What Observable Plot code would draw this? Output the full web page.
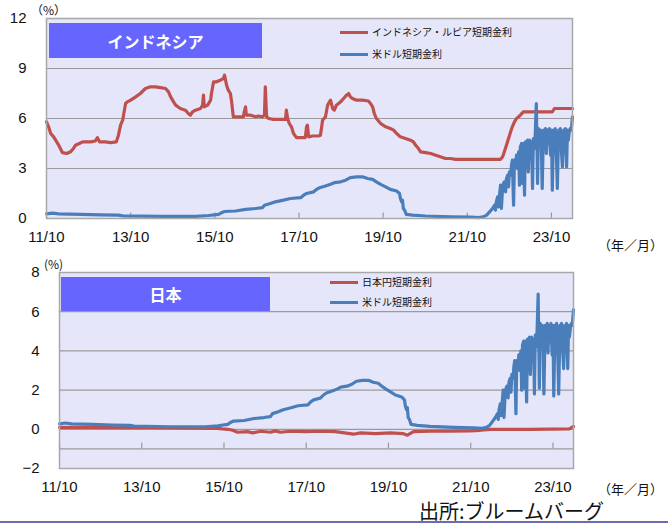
<!DOCTYPE html>
<html>
<head>
<meta charset="utf-8">
<script src="https://cdn.jsdelivr.net/npm/d3@7"></script>
<script src="https://cdn.jsdelivr.net/npm/@observablehq/plot@0.6"></script>
<style>
  body { margin: 0; background: white; }
  #wrap { position: relative; width: 668px; height: 525px; background: white; overflow: hidden;
          font-family: "Noto Sans CJK JP", "Liberation Sans", sans-serif; color: #111; }
  .abs { position: absolute; white-space: nowrap; }
  .titlebox { position: absolute; background: #6666ff; color: white; font-weight: bold; font-size: 16px;
              display: flex; align-items: center; justify-content: center; }
  .legline { position: absolute; height: 3px; width: 28px; }
  .legtext { position: absolute; font-size: 10px; line-height: 12px; white-space: nowrap; }
</style>
</head>
<body>
<div id="wrap">
  <div id="top" class="abs" style="left:0;top:0"></div>
  <div id="bot" class="abs" style="left:0;top:250px"></div>

  <div class="titlebox" style="left:49px;top:23px;width:213px;height:35px">インドネシア</div>
  <div class="legline" style="left:340px;top:31px;background:#c0504d"></div>
  <div class="legtext" style="left:372px;top:26px">インドネシア・ルピア短期金利</div>
  <div class="legline" style="left:340px;top:53px;background:#4a7ebb"></div>
  <div class="legtext" style="left:372px;top:48px">米ドル短期金利</div>
  <div class="abs" style="left:31px;top:1px;font-size:12px">（%）</div>
  <div class="abs" style="left:598px;top:235px;font-size:13px">（年／月）</div>

  <div class="titlebox" style="left:61px;top:277px;width:209px;height:34px">日本</div>
  <div class="legline" style="left:330px;top:281px;background:#c0504d"></div>
  <div class="legtext" style="left:362px;top:276px">日本円短期金利</div>
  <div class="legline" style="left:330px;top:301px;background:#4a7ebb"></div>
  <div class="legtext" style="left:362px;top:296px">米ドル短期金利</div>
  <div class="abs" style="left:44px;top:255px;font-size:12px">(%)</div>
  <div class="abs" style="left:598px;top:479px;font-size:13px">（年／月）</div>

  <div class="abs" style="left:419px;top:496px;font-size:20px">出所:ブルームバーグ</div>
  <div class="abs" style="left:0;top:521px;width:668px;height:2px;background:#6b6bb0"></div>
</div>
<script>
// x tick positions (decimal years) and labels
const xTickYears = [2011.75, 2013.75, 2015.75, 2017.75, 2019.75, 2021.75, 2023.75];
const xTickLabels = ["11/10", "13/10", "15/10", "17/10", "19/10", "21/10", "23/10"];

// Indonesia rupiah short-term rate
const idrYears = [2011.75,2011.80,2011.85,2011.92,2012.04,2012.13,2012.23,2012.32,2012.39,2012.44,2012.53,2012.61,2012.80,2012.91,2012.96,2013.01,2013.15,2013.27,2013.41,2013.46,2013.51,2013.56,2013.63,2013.67,2013.75,2013.87,2013.98,2014.10,2014.22,2014.34,2014.46,2014.58,2014.65,2014.70,2014.77,2014.82,2014.93,2015.05,2015.12,2015.17,2015.22,2015.29,2015.41,2015.46,2015.48,2015.50,2015.58,2015.65,2015.67,2015.72,2015.79,2015.88,2015.96,2015.98,2016.03,2016.07,2016.12,2016.15,2016.19,2016.31,2016.43,2016.45,2016.48,2016.50,2016.60,2016.72,2016.79,2016.88,2016.93,2016.95,2016.98,2017.03,2017.14,2017.31,2017.43,2017.45,2017.48,2017.52,2017.57,2017.62,2017.69,2017.79,2017.90,2017.93,2017.95,2017.98,2018.07,2018.21,2018.26,2018.29,2018.31,2018.38,2018.43,2018.50,2018.55,2018.59,2018.64,2018.69,2018.74,2018.81,2018.88,2018.93,2018.97,2019.02,2019.12,2019.26,2019.40,2019.45,2019.50,2019.54,2019.59,2019.69,2019.81,2019.92,2020.00,2020.07,2020.16,2020.28,2020.40,2020.47,2020.52,2020.59,2020.64,2020.76,2020.88,2021.00,2021.11,2021.23,2021.35,2021.47,2021.83,2022.18,2022.54,2022.59,2022.63,2022.68,2022.73,2022.78,2022.82,2022.87,2022.92,2022.97,2023.01,2023.08,2023.25,2023.49,2023.77,2023.82,2024.25];
const idrRates = [5.8,5.5,5.1,4.9,4.4,3.95,3.9,4.0,4.2,4.4,4.5,4.6,4.6,4.65,4.85,4.6,4.6,4.55,4.6,5.0,5.6,5.9,6.9,7.0,7.1,7.3,7.5,7.8,7.9,7.9,7.85,7.8,7.6,7.3,7.0,6.8,6.6,6.5,6.3,6.2,6.4,6.5,6.6,6.8,7.4,6.7,6.8,7.1,7.5,8.2,8.2,8.3,8.4,8.6,8.0,7.7,7.5,7.0,6.1,6.1,6.1,6.4,6.7,6.2,6.2,6.1,6.15,6.1,6.2,7.9,6.1,6.0,5.95,5.95,5.95,6.5,6.0,5.7,5.5,5.1,4.85,4.85,4.85,5.5,5.6,4.9,4.95,4.95,5.0,5.5,5.9,6.1,6.8,7.1,6.6,6.5,6.8,6.9,7.0,7.2,7.4,7.5,7.3,7.2,7.1,7.1,7.05,6.9,6.7,6.3,6.0,5.7,5.5,5.4,5.3,5.1,4.9,4.8,4.7,4.6,4.4,4.2,4.0,3.95,3.9,3.8,3.7,3.6,3.6,3.55,3.55,3.55,3.55,3.7,4.0,4.4,4.8,5.2,5.5,5.8,6.0,6.1,6.2,6.4,6.4,6.4,6.4,6.6,6.6];

// US dollar short-term rate
const usdYears = [2011.75,2011.89,2012.04,2012.56,2013.03,2013.46,2013.56,2014.46,2015.29,2015.60,2015.84,2015.91,2015.98,2016.24,2016.48,2016.72,2016.88,2016.93,2017.07,2017.19,2017.38,2017.55,2017.79,2017.86,2017.93,2018.10,2018.17,2018.24,2018.38,2018.50,2018.59,2018.74,2018.86,2018.97,2019.12,2019.26,2019.38,2019.50,2019.59,2019.69,2019.81,2019.92,2020.07,2020.14,2020.16,2020.19,2020.21,2020.23,2020.26,2020.30,2020.45,2020.76,2021.35,2021.83,2022.02,2022.13,2022.21,2022.28,2022.35,2022.40,2022.42,2022.44,2022.47,2022.49,2022.52,2022.54,2022.56,2022.59,2022.61,2022.63,2022.66,2022.68,2022.71,2022.73,2022.75,2022.78,2022.80,2022.82,2022.85,2022.87,2022.90,2022.92,2022.94,2022.97,2022.99,2023.01,2023.04,2023.06,2023.08,2023.11,2023.13,2023.16,2023.18,2023.20,2023.23,2023.25,2023.28,2023.30,2023.32,2023.35,2023.37,2023.39,2023.42,2023.44,2023.46,2023.49,2023.51,2023.53,2023.56,2023.58,2023.61,2023.63,2023.65,2023.68,2023.70,2023.73,2023.75,2023.77,2023.80,2023.82,2023.84,2023.87,2023.89,2023.92,2023.94,2023.96,2023.99,2024.01,2024.04,2024.06,2024.08,2024.11,2024.13,2024.15,2024.18,2024.20,2024.22,2024.25];
const usdRates = [0.28,0.32,0.28,0.25,0.22,0.2,0.16,0.13,0.13,0.18,0.25,0.35,0.42,0.45,0.55,0.6,0.65,0.8,0.9,1.0,1.1,1.2,1.25,1.4,1.5,1.6,1.75,1.85,1.95,2.05,2.15,2.2,2.3,2.45,2.5,2.5,2.4,2.35,2.2,2.05,1.9,1.75,1.65,1.5,1.2,1.0,1.1,0.6,0.5,0.25,0.2,0.15,0.1,0.08,0.05,0.1,0.2,0.4,0.6,0.8,0.5,1.0,1.3,0.7,1.5,2.0,0.6,1.9,2.1,2.2,1.6,2.4,2.6,1.9,2.8,2.6,3.2,3.5,0.8,3.5,3.3,3.8,3.0,4.0,2.0,4.3,4.5,2.1,4.5,1.4,4.6,3.6,4.7,2.8,4.7,4.0,4.6,1.8,4.8,4.2,5.4,6.9,2.1,5.4,4.6,5.3,4.3,1.8,5.3,4.4,5.4,3.9,5.3,4.5,5.4,3.8,5.3,1.7,5.3,4.2,5.4,3.6,1.8,5.3,4.6,5.4,3.9,3.1,5.3,4.5,5.4,3.1,5.3,4.7,5.3,5.4,5.3,6.1];

// Japanese yen short-term rate
const jpyYears = [2011.75,2013.96,2015.59,2015.71,2015.85,2015.96,2016.08,2016.32,2016.45,2016.64,2016.88,2017.00,2017.12,2017.37,2017.73,2018.10,2018.46,2018.90,2019.07,2019.43,2019.80,2020.10,2020.21,2020.36,2020.77,2021.26,2021.74,2021.99,2022.23,2023.20,2024.15,2024.25];
const jpyRates = [0.1,0.08,0.05,0.02,0.0,-0.05,-0.15,-0.12,-0.18,-0.1,-0.15,-0.08,-0.15,-0.1,-0.12,-0.1,-0.12,-0.25,-0.18,-0.22,-0.18,-0.22,-0.3,-0.12,-0.1,-0.1,-0.08,-0.05,0.0,0.0,0.02,0.15];

const topTicks = [0, 3, 6, 9, 12];
const topGrid = [3, 6, 9];
const botTicks = [-2, 0, 2, 4, 6, 8];
const botGrid = [0, 2, 4, 6];
const botAxisAt = [-1];

const RED = "#c0504d", BLUE = "#4a7ebb";
const idr = idrYears.map((t, i) => ({t, v: idrRates[i]}));
const usd = usdYears.map((t, i) => ({t, v: usdRates[i]}));
const jpy = jpyYears.map((t, i) => ({t, v: jpyRates[i]}));
const fmt = d => xTickLabels[xTickYears.indexOf(d)];
const baseStyle = {fontFamily: "'Liberation Sans', Arial, sans-serif", fontSize: "15px", background: "transparent", color: "#111", overflow: "visible"};

const topChart = Plot.plot({
  width: 668, height: 250,
  marginTop: 18, marginBottom: 32, marginLeft: 46, marginRight: 96,
  x: {domain: [2011.75, 2024.25]},
  y: {domain: [0, 12]},
  style: baseStyle,
  marks: [
    Plot.frame({fill: "#e6e6fa", stroke: null}),
    Plot.ruleY(topGrid, {stroke: "#9a9a9a", strokeWidth: 1.2}),
    Plot.ruleX(xTickYears, {y1: 0, y2: 0.33, stroke: "#9a9a9a", strokeWidth: 1.2}),
    Plot.line(idr, {x: "t", y: "v", stroke: RED, strokeWidth: 3.2}),
    Plot.line(usd, {x: "t", y: "v", stroke: BLUE, strokeWidth: 3.2}),
    Plot.frame({stroke: "#a8a8a8", strokeWidth: 1.5}),
    Plot.axisY({ticks: topTicks, tickSize: 0, tickPadding: 20, label: null}),
    Plot.axisX({ticks: xTickYears, tickFormat: fmt, tickSize: 0, tickPadding: 13, label: null})
  ]
});
document.getElementById("top").appendChild(topChart);

const botChart = Plot.plot({
  width: 668, height: 250,
  marginTop: 22, marginBottom: 32, marginLeft: 59, marginRight: 95,
  x: {domain: [2011.75, 2024.25]},
  y: {domain: [-2, 8]},
  style: baseStyle,
  marks: [
    Plot.frame({fill: "#e6e6fa", stroke: null}),
    Plot.ruleY(botGrid, {stroke: "#9a9a9a", strokeWidth: 1.2}),
    Plot.ruleY(botAxisAt, {stroke: "#9a9a9a", strokeWidth: 1.2}),
    Plot.ruleX(xTickYears, {y1: -1, y2: -0.7, stroke: "#9a9a9a", strokeWidth: 1.2}),
    Plot.line(jpy, {x: "t", y: "v", stroke: RED, strokeWidth: 3.2}),
    Plot.line(usd, {x: "t", y: "v", stroke: BLUE, strokeWidth: 3.2}),
    Plot.frame({stroke: "#a8a8a8", strokeWidth: 1.5}),
    Plot.axisY({ticks: botTicks, tickSize: 0, tickPadding: 20, label: null, tickFormat: d => d < 0 ? "−" + Math.abs(d) : String(d)}),
    Plot.axisX({ticks: xTickYears, tickFormat: fmt, tickSize: 0, tickPadding: 13, label: null})
  ]
});
document.getElementById("bot").appendChild(botChart);
</script>
</body>
</html>
